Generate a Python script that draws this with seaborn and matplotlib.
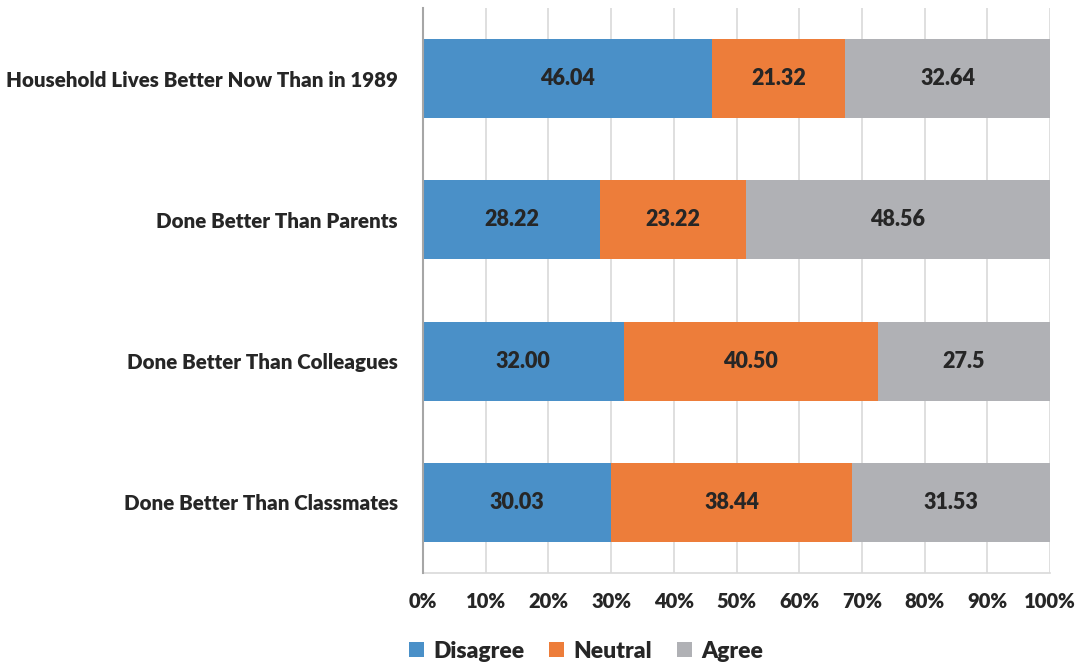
import matplotlib
matplotlib.use("Agg")
import matplotlib.pyplot as plt
from matplotlib.patches import Patch
from matplotlib.ticker import FuncFormatter
import seaborn as sns
import pandas as pd
import numpy as np

categories = [
    "Household Lives Better Now Than in 1989",
    "Done Better Than Parents",
    "Done Better Than Colleagues",
    "Done Better Than Classmates",
]
disagree = [46.04, 28.22, 32.00, 30.03]
neutral = [21.32, 23.22, 40.50, 38.44]
agree = [32.64, 48.56, 27.5, 31.53]
disagree_labels = ["46.04", "28.22", "32.00", "30.03"]
neutral_labels = ["21.32", "23.22", "40.50", "38.44"]
agree_labels = ["32.64", "48.56", "27.5", "31.53"]
series_names = ["Disagree", "Neutral", "Agree"]

colors = {"Disagree": "#4A90C8", "Neutral": "#ED7D3A", "Agree": "#B0B1B5"}
text_color = "#262626"
WEIGHT = "heavy"

sns.set_theme(style="white")
plt.rcParams["font.family"] = ["Lato", "DejaVu Sans"]
plt.rcParams["font.weight"] = WEIGHT

df = pd.DataFrame({
    "category": categories,
    "Disagree": disagree,
    "Neutral": neutral,
    "Agree": agree,
})
df["cum_disagree"] = df["Disagree"]
df["cum_neutral"] = df["Disagree"] + df["Neutral"]
df["cum_agree"] = df["cum_neutral"] + df["Agree"]

fig = plt.figure(figsize=(10.89, 6.63), dpi=100)
ax = fig.add_axes([423 / 1089, 1 - 573 / 663, (1050 - 423) / 1089, (573 - 8) / 663])

# Stacked bars: draw cumulative totals from the outermost segment inward
for col, name in [("cum_agree", "Agree"), ("cum_neutral", "Neutral"), ("cum_disagree", "Disagree")]:
    sns.barplot(data=df, y="category", x=col, orient="h", color=colors[name],
                width=0.56, ax=ax, saturation=1, edgecolor="none", linewidth=0, zorder=3)

# Segment value labels
starts = {
    "Disagree": np.zeros(len(categories)),
    "Neutral": np.array(disagree),
    "Agree": np.array(disagree) + np.array(neutral),
}
widths = {"Disagree": disagree, "Neutral": neutral, "Agree": agree}
labels = {"Disagree": disagree_labels, "Neutral": neutral_labels, "Agree": agree_labels}
for name in series_names:
    for i in range(len(categories)):
        ax.text(starts[name][i] + widths[name][i] / 2, i, labels[name][i],
                ha="center", va="center", fontsize=15.5, fontweight=WEIGHT,
                color=text_color, zorder=5)

ax.set_xlim(0, 100)
ax.set_ylim(3.5, -0.5)
ax.set_xticks(np.arange(0, 101, 10))
ax.xaxis.set_major_formatter(FuncFormatter(lambda v, p: f"{int(v)}%"))
ax.set_xlabel("")
ax.set_ylabel("")
ax.grid(axis="x", color="#D9D9D9", linewidth=1.2, zorder=0)
ax.grid(axis="y", visible=False)
ax.set_axisbelow(True)

for s in ["top", "right"]:
    ax.spines[s].set_visible(False)
ax.spines["left"].set_color("#A6A6A6")
ax.spines["left"].set_linewidth(1.5)
ax.spines["left"].set_zorder(4)
ax.spines["bottom"].set_color("#D9D9D9")
ax.spines["bottom"].set_linewidth(1.2)

ax.tick_params(axis="y", length=0, pad=18, labelsize=14.8, labelcolor=text_color)
ax.tick_params(axis="x", length=0, pad=14, labelsize=14.5, labelcolor=text_color)
for lbl in ax.get_yticklabels() + ax.get_xticklabels():
    lbl.set_fontweight(WEIGHT)

handles = [Patch(facecolor=colors[n], edgecolor="none", label=n) for n in series_names]
leg = fig.legend(handles=handles, loc="center", bbox_to_anchor=(586 / 1089, 1 - 651 / 663),
                 ncol=3, frameon=False, fontsize=16.5, handlelength=0.65, handleheight=0.65,
                 handletextpad=0.4, columnspacing=1.1)
for t in leg.get_texts():
    t.set_color(text_color)
    t.set_fontweight(WEIGHT)

fig.savefig("out.png", dpi=100)
